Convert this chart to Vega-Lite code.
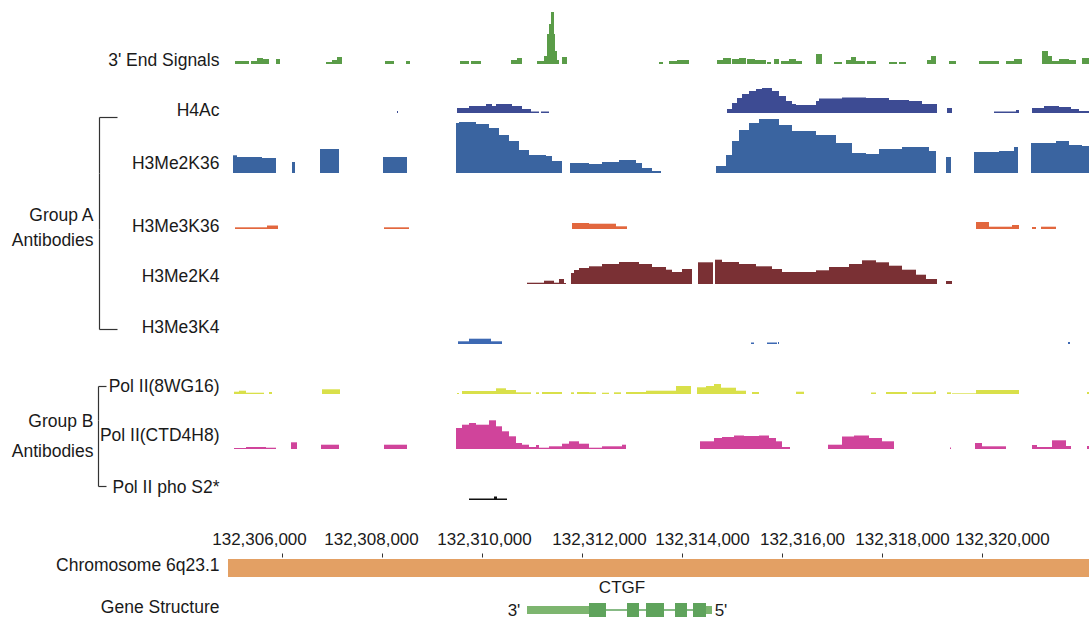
{
  "$schema": "https://vega.github.io/schema/vega-lite/v6.json",
  "padding": 0,
  "background": "#ffffff",
  "spacing": 0,
  "bounds": "flush",
  "config": {
    "view": {"stroke": null},
    "font": "Liberation Sans",
    "axis": {"grid": false, "titleFont": "Liberation Sans", "labelFont": "Liberation Sans", "titleFontWeight": "normal", "titleFontSize": 17.5, "labelFontSize": 17, "titleColor": "#1a1a1a", "labelColor": "#1a1a1a", "domainColor": "#333333", "tickColor": "#333333", "titleAngle": 0},
    "text": {"font": "Liberation Sans", "fontSize": 17, "color": "#1a1a1a"}
  },
  "datasets": {
    "signal": [
      {"track":"end3","start":132305060,"end":132305340,"signal":3},
      {"track":"end3","start":132305380,"end":132305500,"signal":3},
      {"track":"end3","start":132305500,"end":132305620,"signal":6},
      {"track":"end3","start":132305620,"end":132305740,"signal":5},
      {"track":"end3","start":132305880,"end":132305960,"signal":5},
      {"track":"end3","start":132306880,"end":132307000,"signal":2},
      {"track":"end3","start":132307000,"end":132307100,"signal":4},
      {"track":"end3","start":132307100,"end":132307200,"signal":7},
      {"track":"end3","start":132308060,"end":132308240,"signal":3},
      {"track":"end3","start":132308480,"end":132308560,"signal":3},
      {"track":"end3","start":132309560,"end":132309740,"signal":3},
      {"track":"end3","start":132309780,"end":132309980,"signal":3},
      {"track":"end3","start":132310580,"end":132310700,"signal":4},
      {"track":"end3","start":132310700,"end":132310800,"signal":6},
      {"track":"end3","start":132311100,"end":132311240,"signal":3},
      {"track":"end3","start":132311240,"end":132311300,"signal":8},
      {"track":"end3","start":132311300,"end":132311340,"signal":30},
      {"track":"end3","start":132311340,"end":132311380,"signal":40},
      {"track":"end3","start":132311380,"end":132311440,"signal":52},
      {"track":"end3","start":132311440,"end":132311460,"signal":30},
      {"track":"end3","start":132311460,"end":132311500,"signal":13},
      {"track":"end3","start":132311500,"end":132311540,"signal":4},
      {"track":"end3","start":132311600,"end":132311700,"signal":7},
      {"track":"end3","start":132313540,"end":132313620,"signal":2},
      {"track":"end3","start":132313740,"end":132313900,"signal":3},
      {"track":"end3","start":132313900,"end":132314140,"signal":4},
      {"track":"end3","start":132314700,"end":132314820,"signal":4},
      {"track":"end3","start":132314820,"end":132314980,"signal":6},
      {"track":"end3","start":132315000,"end":132315140,"signal":5},
      {"track":"end3","start":132315140,"end":132315280,"signal":6},
      {"track":"end3","start":132315300,"end":132315460,"signal":5},
      {"track":"end3","start":132315460,"end":132315680,"signal":4},
      {"track":"end3","start":132315700,"end":132315780,"signal":2},
      {"track":"end3","start":132315840,"end":132315940,"signal":5},
      {"track":"end3","start":132315980,"end":132316140,"signal":3},
      {"track":"end3","start":132316140,"end":132316280,"signal":5},
      {"track":"end3","start":132316280,"end":132316400,"signal":3},
      {"track":"end3","start":132316680,"end":132316800,"signal":10},
      {"track":"end3","start":132317040,"end":132317200,"signal":2},
      {"track":"end3","start":132317280,"end":132317380,"signal":4},
      {"track":"end3","start":132317380,"end":132317480,"signal":7},
      {"track":"end3","start":132317480,"end":132317660,"signal":3},
      {"track":"end3","start":132317700,"end":132317880,"signal":3},
      {"track":"end3","start":132318140,"end":132318300,"signal":2},
      {"track":"end3","start":132318340,"end":132318480,"signal":2},
      {"track":"end3","start":132318900,"end":132318980,"signal":4},
      {"track":"end3","start":132318980,"end":132319080,"signal":8},
      {"track":"end3","start":132319340,"end":132319480,"signal":3},
      {"track":"end3","start":132319940,"end":132320340,"signal":3},
      {"track":"end3","start":132320480,"end":132320640,"signal":3},
      {"track":"end3","start":132320640,"end":132320800,"signal":5},
      {"track":"end3","start":132321200,"end":132321320,"signal":13},
      {"track":"end3","start":132321320,"end":132321400,"signal":8},
      {"track":"end3","start":132321400,"end":132321540,"signal":3},
      {"track":"end3","start":132321540,"end":132321740,"signal":5},
      {"track":"end3","start":132321740,"end":132321880,"signal":4},
      {"track":"end3","start":132322000,"end":132322140,"signal":6},

      {"track":"h4ac","start":132308300,"end":132308320,"signal":2},
      {"track":"h4ac","start":132309500,"end":132309740,"signal":5},
      {"track":"h4ac","start":132309740,"end":132310080,"signal":7},
      {"track":"h4ac","start":132310080,"end":132310200,"signal":9},
      {"track":"h4ac","start":132310200,"end":132310280,"signal":7},
      {"track":"h4ac","start":132310280,"end":132310600,"signal":9},
      {"track":"h4ac","start":132310600,"end":132310800,"signal":7},
      {"track":"h4ac","start":132310800,"end":132310980,"signal":4},
      {"track":"h4ac","start":132310980,"end":132311140,"signal":1.5},
      {"track":"h4ac","start":132311180,"end":132311340,"signal":1.5},
      {"track":"h4ac","start":132314900,"end":132315000,"signal":4},
      {"track":"h4ac","start":132315000,"end":132315100,"signal":10},
      {"track":"h4ac","start":132315100,"end":132315200,"signal":15},
      {"track":"h4ac","start":132315200,"end":132315340,"signal":19},
      {"track":"h4ac","start":132315340,"end":132315480,"signal":22},
      {"track":"h4ac","start":132315480,"end":132315600,"signal":24},
      {"track":"h4ac","start":132315600,"end":132315800,"signal":25},
      {"track":"h4ac","start":132315800,"end":132315940,"signal":22},
      {"track":"h4ac","start":132315940,"end":132316080,"signal":17},
      {"track":"h4ac","start":132316080,"end":132316200,"signal":12},
      {"track":"h4ac","start":132316200,"end":132316280,"signal":9},
      {"track":"h4ac","start":132316280,"end":132316680,"signal":8},
      {"track":"h4ac","start":132316680,"end":132316740,"signal":12},
      {"track":"h4ac","start":132316740,"end":132317200,"signal":14.5},
      {"track":"h4ac","start":132317200,"end":132317680,"signal":15.5},
      {"track":"h4ac","start":132317680,"end":132318140,"signal":15},
      {"track":"h4ac","start":132318140,"end":132318540,"signal":13},
      {"track":"h4ac","start":132318540,"end":132318800,"signal":12},
      {"track":"h4ac","start":132318800,"end":132319100,"signal":9},
      {"track":"h4ac","start":132319300,"end":132319400,"signal":5},
      {"track":"h4ac","start":132320240,"end":132320680,"signal":1.5},
      {"track":"h4ac","start":132320680,"end":132320740,"signal":3},
      {"track":"h4ac","start":132321000,"end":132321240,"signal":5},
      {"track":"h4ac","start":132321240,"end":132321540,"signal":7},
      {"track":"h4ac","start":132321540,"end":132321780,"signal":6},
      {"track":"h4ac","start":132321780,"end":132321940,"signal":4},
      {"track":"h4ac","start":132321940,"end":132322140,"signal":2},

      {"track":"k36me2","start":132305020,"end":132305100,"signal":17.7},
      {"track":"k36me2","start":132305100,"end":132305600,"signal":16},
      {"track":"k36me2","start":132305600,"end":132305880,"signal":15},
      {"track":"k36me2","start":132306200,"end":132306260,"signal":11},
      {"track":"k36me2","start":132306760,"end":132307140,"signal":24},
      {"track":"k36me2","start":132308020,"end":132308500,"signal":16},
      {"track":"k36me2","start":132309480,"end":132309540,"signal":50},
      {"track":"k36me2","start":132309540,"end":132309880,"signal":51},
      {"track":"k36me2","start":132309880,"end":132310140,"signal":49},
      {"track":"k36me2","start":132310140,"end":132310340,"signal":45},
      {"track":"k36me2","start":132310340,"end":132310540,"signal":38},
      {"track":"k36me2","start":132310540,"end":132310740,"signal":32},
      {"track":"k36me2","start":132310740,"end":132310940,"signal":23},
      {"track":"k36me2","start":132310940,"end":132311280,"signal":18},
      {"track":"k36me2","start":132311280,"end":132311400,"signal":17},
      {"track":"k36me2","start":132311400,"end":132311600,"signal":12},
      {"track":"k36me2","start":132311760,"end":132312140,"signal":10},
      {"track":"k36me2","start":132312140,"end":132312400,"signal":9},
      {"track":"k36me2","start":132312400,"end":132312740,"signal":11},
      {"track":"k36me2","start":132312740,"end":132313080,"signal":13},
      {"track":"k36me2","start":132313080,"end":132313200,"signal":10},
      {"track":"k36me2","start":132313200,"end":132313400,"signal":5},
      {"track":"k36me2","start":132313400,"end":132313580,"signal":2},
      {"track":"k36me2","start":132314680,"end":132314880,"signal":7},
      {"track":"k36me2","start":132314880,"end":132315000,"signal":18},
      {"track":"k36me2","start":132315000,"end":132315140,"signal":32},
      {"track":"k36me2","start":132315140,"end":132315340,"signal":43},
      {"track":"k36me2","start":132315340,"end":132315540,"signal":50},
      {"track":"k36me2","start":132315540,"end":132315940,"signal":54},
      {"track":"k36me2","start":132315940,"end":132316200,"signal":48},
      {"track":"k36me2","start":132316200,"end":132316680,"signal":42},
      {"track":"k36me2","start":132316680,"end":132317080,"signal":38},
      {"track":"k36me2","start":132317080,"end":132317400,"signal":30},
      {"track":"k36me2","start":132317400,"end":132317680,"signal":20},
      {"track":"k36me2","start":132317680,"end":132317940,"signal":19},
      {"track":"k36me2","start":132317940,"end":132318400,"signal":24},
      {"track":"k36me2","start":132318400,"end":132318940,"signal":26},
      {"track":"k36me2","start":132318940,"end":132319080,"signal":22},
      {"track":"k36me2","start":132319280,"end":132319380,"signal":16},
      {"track":"k36me2","start":132319840,"end":132320340,"signal":21},
      {"track":"k36me2","start":132320340,"end":132320640,"signal":22},
      {"track":"k36me2","start":132320640,"end":132320720,"signal":26},
      {"track":"k36me2","start":132320980,"end":132321480,"signal":30},
      {"track":"k36me2","start":132321480,"end":132321740,"signal":32},
      {"track":"k36me2","start":132321740,"end":132322000,"signal":28},
      {"track":"k36me2","start":132322000,"end":132322140,"signal":27},

      {"track":"k36me3","start":132305060,"end":132305700,"signal":1.7},
      {"track":"k36me3","start":132305700,"end":132305920,"signal":3.5},
      {"track":"k36me3","start":132308040,"end":132308540,"signal":1.7},
      {"track":"k36me3","start":132311800,"end":132312140,"signal":6},
      {"track":"k36me3","start":132312140,"end":132312680,"signal":5.3},
      {"track":"k36me3","start":132312680,"end":132312900,"signal":2.7},
      {"track":"k36me3","start":132319880,"end":132320140,"signal":7},
      {"track":"k36me3","start":132320140,"end":132320600,"signal":2.3},
      {"track":"k36me3","start":132320600,"end":132320740,"signal":4},
      {"track":"k36me3","start":132321000,"end":132321080,"signal":2},
      {"track":"k36me3","start":132321180,"end":132321480,"signal":2.3},

      {"track":"k4me2","start":132310900,"end":132311240,"signal":1.3},
      {"track":"k4me2","start":132311240,"end":132311440,"signal":3.3},
      {"track":"k4me2","start":132311440,"end":132311540,"signal":1.3},
      {"track":"k4me2","start":132311540,"end":132311640,"signal":5},
      {"track":"k4me2","start":132311640,"end":132311680,"signal":1},
      {"track":"k4me2","start":132311780,"end":132311840,"signal":11},
      {"track":"k4me2","start":132311840,"end":132311940,"signal":14},
      {"track":"k4me2","start":132311940,"end":132312140,"signal":16},
      {"track":"k4me2","start":132312140,"end":132312400,"signal":17.7},
      {"track":"k4me2","start":132312400,"end":132312740,"signal":20},
      {"track":"k4me2","start":132312740,"end":132313140,"signal":22},
      {"track":"k4me2","start":132313140,"end":132313400,"signal":20},
      {"track":"k4me2","start":132313400,"end":132313680,"signal":17},
      {"track":"k4me2","start":132313680,"end":132313800,"signal":14.3},
      {"track":"k4me2","start":132313800,"end":132314000,"signal":12},
      {"track":"k4me2","start":132314000,"end":132314200,"signal":15},
      {"track":"k4me2","start":132314320,"end":132314620,"signal":21.7},
      {"track":"k4me2","start":132314660,"end":132314800,"signal":24.3},
      {"track":"k4me2","start":132314800,"end":132315140,"signal":22},
      {"track":"k4me2","start":132315140,"end":132315480,"signal":20},
      {"track":"k4me2","start":132315480,"end":132315800,"signal":17.7},
      {"track":"k4me2","start":132315800,"end":132316000,"signal":15},
      {"track":"k4me2","start":132316000,"end":132316680,"signal":12},
      {"track":"k4me2","start":132316680,"end":132316940,"signal":13.7},
      {"track":"k4me2","start":132316940,"end":132317340,"signal":17},
      {"track":"k4me2","start":132317340,"end":132317600,"signal":20},
      {"track":"k4me2","start":132317600,"end":132317880,"signal":23.7},
      {"track":"k4me2","start":132317880,"end":132318140,"signal":21.7},
      {"track":"k4me2","start":132318140,"end":132318400,"signal":18.3},
      {"track":"k4me2","start":132318400,"end":132318680,"signal":14.3},
      {"track":"k4me2","start":132318680,"end":132318880,"signal":9.3},
      {"track":"k4me2","start":132318880,"end":132319100,"signal":5},
      {"track":"k4me2","start":132319280,"end":132319400,"signal":3},

      {"track":"k4me3","start":132309520,"end":132309740,"signal":2.7},
      {"track":"k4me3","start":132309740,"end":132310180,"signal":5.3},
      {"track":"k4me3","start":132310180,"end":132310400,"signal":2.7},
      {"track":"k4me3","start":132315380,"end":132315440,"signal":1.5},
      {"track":"k4me3","start":132315700,"end":132315900,"signal":1.5},
      {"track":"k4me3","start":132315920,"end":132315940,"signal":2},
      {"track":"k4me3","start":132321720,"end":132321760,"signal":2},

      {"track":"pol8wg16","start":132305040,"end":132305140,"signal":2.3},
      {"track":"pol8wg16","start":132305140,"end":132305280,"signal":3.3},
      {"track":"pol8wg16","start":132305280,"end":132305640,"signal":1.3},
      {"track":"pol8wg16","start":132305740,"end":132305800,"signal":2},
      {"track":"pol8wg16","start":132306800,"end":132307160,"signal":4.7},
      {"track":"pol8wg16","start":132309500,"end":132309540,"signal":1},
      {"track":"pol8wg16","start":132309600,"end":132310280,"signal":3},
      {"track":"pol8wg16","start":132310280,"end":132310480,"signal":5.7},
      {"track":"pol8wg16","start":132310480,"end":132310680,"signal":4},
      {"track":"pol8wg16","start":132310680,"end":132310980,"signal":1.7},
      {"track":"pol8wg16","start":132311080,"end":132311140,"signal":1.7},
      {"track":"pol8wg16","start":132311200,"end":132311600,"signal":2},
      {"track":"pol8wg16","start":132311780,"end":132311840,"signal":1.7},
      {"track":"pol8wg16","start":132311900,"end":132312140,"signal":2},
      {"track":"pol8wg16","start":132312140,"end":132312280,"signal":1.7},
      {"track":"pol8wg16","start":132312400,"end":132312540,"signal":1.3},
      {"track":"pol8wg16","start":132312640,"end":132312780,"signal":1.7},
      {"track":"pol8wg16","start":132312880,"end":132313280,"signal":2},
      {"track":"pol8wg16","start":132313280,"end":132313880,"signal":3.3},
      {"track":"pol8wg16","start":132313880,"end":132314180,"signal":8},
      {"track":"pol8wg16","start":132314300,"end":132314480,"signal":6.7},
      {"track":"pol8wg16","start":132314480,"end":132314640,"signal":8},
      {"track":"pol8wg16","start":132314640,"end":132314780,"signal":10},
      {"track":"pol8wg16","start":132314780,"end":132315080,"signal":6.3},
      {"track":"pol8wg16","start":132315080,"end":132315280,"signal":3.3},
      {"track":"pol8wg16","start":132315400,"end":132315540,"signal":2},
      {"track":"pol8wg16","start":132316280,"end":132316440,"signal":2.3},
      {"track":"pol8wg16","start":132317780,"end":132317880,"signal":1.5},
      {"track":"pol8wg16","start":132318080,"end":132318500,"signal":2},
      {"track":"pol8wg16","start":132318600,"end":132319040,"signal":1.7},
      {"track":"pol8wg16","start":132319040,"end":132319080,"signal":2.7},
      {"track":"pol8wg16","start":132319300,"end":132319380,"signal":1.7},
      {"track":"pol8wg16","start":132319400,"end":132319880,"signal":0.7},
      {"track":"pol8wg16","start":132319880,"end":132320740,"signal":4},
      {"track":"pol8wg16","start":132322100,"end":132322140,"signal":2},

      {"track":"polctd","start":132305040,"end":132305280,"signal":1},
      {"track":"polctd","start":132305280,"end":132305680,"signal":2},
      {"track":"polctd","start":132305680,"end":132305880,"signal":1.3},
      {"track":"polctd","start":132306180,"end":132306300,"signal":6.7},
      {"track":"polctd","start":132306780,"end":132307140,"signal":4.3},
      {"track":"polctd","start":132308040,"end":132308500,"signal":4.3},
      {"track":"polctd","start":132309480,"end":132309600,"signal":21},
      {"track":"polctd","start":132309600,"end":132309740,"signal":24.3},
      {"track":"polctd","start":132309740,"end":132309880,"signal":26},
      {"track":"polctd","start":132309880,"end":132310140,"signal":24.3},
      {"track":"polctd","start":132310140,"end":132310280,"signal":28.7},
      {"track":"polctd","start":132310280,"end":132310400,"signal":22.7},
      {"track":"polctd","start":132310400,"end":132310540,"signal":17.7},
      {"track":"polctd","start":132310540,"end":132310680,"signal":12.7},
      {"track":"polctd","start":132310680,"end":132310800,"signal":6},
      {"track":"polctd","start":132310800,"end":132310940,"signal":4.3},
      {"track":"polctd","start":132310940,"end":132311080,"signal":2},
      {"track":"polctd","start":132311080,"end":132311140,"signal":4},
      {"track":"polctd","start":132311140,"end":132311340,"signal":1.3},
      {"track":"polctd","start":132311340,"end":132311600,"signal":2.7},
      {"track":"polctd","start":132311600,"end":132311740,"signal":5.3},
      {"track":"polctd","start":132311740,"end":132311940,"signal":7.7},
      {"track":"polctd","start":132311940,"end":132312140,"signal":5.3},
      {"track":"polctd","start":132312140,"end":132312400,"signal":1.3},
      {"track":"polctd","start":132312400,"end":132312800,"signal":2.7},
      {"track":"polctd","start":132312800,"end":132312880,"signal":4.3},
      {"track":"polctd","start":132314360,"end":132314640,"signal":7.7},
      {"track":"polctd","start":132314640,"end":132314800,"signal":11},
      {"track":"polctd","start":132314800,"end":132315040,"signal":12},
      {"track":"polctd","start":132315040,"end":132315240,"signal":13.5},
      {"track":"polctd","start":132315240,"end":132315540,"signal":13},
      {"track":"polctd","start":132315540,"end":132315740,"signal":13.5},
      {"track":"polctd","start":132315740,"end":132315880,"signal":11},
      {"track":"polctd","start":132315880,"end":132316000,"signal":7.7},
      {"track":"polctd","start":132316000,"end":132316160,"signal":2},
      {"track":"polctd","start":132316920,"end":132317200,"signal":4.3},
      {"track":"polctd","start":132317200,"end":132317440,"signal":12.5},
      {"track":"polctd","start":132317440,"end":132317740,"signal":13.5},
      {"track":"polctd","start":132317740,"end":132318000,"signal":11},
      {"track":"polctd","start":132318000,"end":132318240,"signal":7.7},
      {"track":"polctd","start":132319360,"end":132319380,"signal":1.5},
      {"track":"polctd","start":132319860,"end":132320000,"signal":6},
      {"track":"polctd","start":132320000,"end":132320480,"signal":2.7},
      {"track":"polctd","start":132321000,"end":132321100,"signal":4},
      {"track":"polctd","start":132321100,"end":132321400,"signal":2},
      {"track":"polctd","start":132321400,"end":132321680,"signal":8.7},
      {"track":"polctd","start":132321680,"end":132321780,"signal":3},
      {"track":"polctd","start":132322100,"end":132322140,"signal":3},

      {"track":"pols2","start":132309740,"end":132310240,"signal":1.5},
      {"track":"pols2","start":132310240,"end":132310300,"signal":3.5},
      {"track":"pols2","start":132310300,"end":132310500,"signal":1.5}
    ],
    "genome": [
      {"lane":"Chromosome 6q23.1","kind":"chromosome","start":132304920,"end":132322140},
      {"lane":"Gene Structure","kind":"intron","start":132310900,"end":132314600},
      {"lane":"Gene Structure","kind":"utr","start":132310900,"end":132312140},
      {"lane":"Gene Structure","kind":"exon","start":132312140,"end":132312480},
      {"lane":"Gene Structure","kind":"exon","start":132312900,"end":132313140},
      {"lane":"Gene Structure","kind":"exon","start":132313280,"end":132313640},
      {"lane":"Gene Structure","kind":"exon","start":132313860,"end":132314100},
      {"lane":"Gene Structure","kind":"exon","start":132314220,"end":132314480},
      {"lane":"Gene Structure","kind":"utr","start":132314480,"end":132314600}
    ],
    "labels": [
      {"role":"gene","text":"CTGF","lane":"Gene Structure","pos":132312800},
      {"role":"end","text":"3'","lane":"Gene Structure","pos":132310640},
      {"role":"end","text":"5'","lane":"Gene Structure","pos":132314780}
    ]
  },
  "vconcat": [
    {
      "width": 858, "height": 64,
      "data": {"name": "signal"},
      "transform": [{"filter": {"field": "track", "equal": "end3"}}],
      "mark": {"type": "rect", "color": "#5a9c48"},
      "encoding": {
        "x": {"field": "start", "type": "quantitative", "scale": {"domain": [132305000, 132322160], "nice": false, "zero": false}, "axis": null},
        "x2": {"field": "end"},
        "y": {"field": "signal", "type": "quantitative", "scale": {"domain": [0, 64], "nice": false, "zero": false},
          "axis": {"title": "3' End Signals", "titleAlign": "right", "titleBaseline": "middle", "titleX": 219, "titleY": 60, "offset": 232, "domain": true, "domainColor": "#ffffff", "ticks": false, "labels": false}},
        "y2": {"datum": 0}
      }
    },
    {
      "width": 858, "height": 53,
      "data": {"name": "signal"},
      "transform": [{"filter": {"field": "track", "equal": "h4ac"}}],
      "mark": {"type": "rect", "color": "#3d4b93"},
      "encoding": {
        "x": {"field": "start", "type": "quantitative", "scale": {"domain": [132305000, 132322160], "nice": false, "zero": false}, "axis": null},
        "x2": {"field": "end"},
        "y": {"field": "signal", "type": "quantitative", "scale": {"domain": [-4, 49], "nice": false, "zero": false},
          "axis": {"title": "H4Ac", "titleAlign": "right", "titleBaseline": "middle", "titleX": -13, "titleY": 46, "domain": false, "ticks": false, "labels": false}},
        "y2": {"datum": 0}
      }
    },
    {
      "width": 858, "height": 56,
      "data": {"name": "signal"},
      "transform": [{"filter": {"field": "track", "equal": "k36me2"}}],
      "mark": {"type": "rect", "color": "#3a64a0"},
      "encoding": {
        "x": {"field": "start", "type": "quantitative", "scale": {"domain": [132305000, 132322160], "nice": false, "zero": false}, "axis": null},
        "x2": {"field": "end"},
        "y": {"field": "signal", "type": "quantitative", "scale": {"domain": [0, 56], "nice": false, "zero": false},
          "axis": {"title": "H3Me2K36", "titleAlign": "right", "titleBaseline": "middle", "titleX": 120, "titleY": 46, "offset": 133, "domain": true, "domainWidth": 1.2, "ticks": true, "tickSize": -18, "tickWidth": 1.2, "values": [56], "labels": false}},
        "y2": {"datum": 0}
      }
    },
    {
      "width": 858, "height": 56,
      "data": {"name": "signal"},
      "transform": [{"filter": {"field": "track", "equal": "k36me3"}}],
      "mark": {"type": "rect", "color": "#e2673e"},
      "encoding": {
        "x": {"field": "start", "type": "quantitative", "scale": {"domain": [132305000, 132322160], "nice": false, "zero": false},
          "axis": {"title": ["Group A", "Antibodies"], "orient": "bottom", "domain": false, "ticks": false, "labels": false, "titleAlign": "right", "titleBaseline": "middle", "titleX": -139, "titleY": -14, "titleLineHeight": 25}},
        "x2": {"field": "end"},
        "y": {"field": "signal", "type": "quantitative", "scale": {"domain": [0, 56], "nice": false, "zero": false},
          "axis": {"title": "H3Me3K36", "titleAlign": "right", "titleBaseline": "middle", "titleX": 120, "titleY": 53, "offset": 133, "domain": true, "domainWidth": 1.2, "ticks": false, "labels": false}},
        "y2": {"datum": 0}
      }
    },
    {
      "width": 858, "height": 100,
      "data": {"name": "signal"},
      "transform": [{"filter": {"field": "track", "equal": "k4me2"}}],
      "mark": {"type": "rect", "color": "#7a3034"},
      "encoding": {
        "x": {"field": "start", "type": "quantitative", "scale": {"domain": [132305000, 132322160], "nice": false, "zero": false}, "axis": null},
        "x2": {"field": "end"},
        "y": {"field": "signal", "type": "quantitative", "scale": {"domain": [-45, 55], "nice": false, "zero": false},
          "axis": {"title": "H3Me2K4", "titleAlign": "right", "titleBaseline": "middle", "titleX": 120, "titleY": 47, "offset": 133, "domain": true, "domainWidth": 1.2, "ticks": true, "tickSize": -18, "tickWidth": 1.2, "values": [-45], "labels": false}},
        "y2": {"datum": 0}
      }
    },
    {
      "width": 858, "height": 57,
      "data": {"name": "signal"},
      "transform": [{"filter": {"field": "track", "equal": "k4me3"}}],
      "mark": {"type": "rect", "color": "#3d69b3"},
      "encoding": {
        "x": {"field": "start", "type": "quantitative", "scale": {"domain": [132305000, 132322160], "nice": false, "zero": false}, "axis": null},
        "x2": {"field": "end"},
        "y": {"field": "signal", "type": "quantitative", "scale": {"domain": [-42, 15], "nice": false, "zero": false},
          "axis": {"title": "H3Me3K4", "titleAlign": "right", "titleBaseline": "middle", "titleX": -13, "titleY": -2, "domain": false, "ticks": false, "labels": false}},
        "y2": {"datum": 0}
      }
    },
    {
      "width": 858, "height": 34,
      "data": {"name": "signal"},
      "transform": [{"filter": {"field": "track", "equal": "pol8wg16"}}],
      "mark": {"type": "rect", "color": "#d9e04a"},
      "encoding": {
        "x": {"field": "start", "type": "quantitative", "scale": {"domain": [132305000, 132322160], "nice": false, "zero": false}, "axis": null},
        "x2": {"field": "end"},
        "y": {"field": "signal", "type": "quantitative", "scale": {"domain": [-26, 8], "nice": false, "zero": false},
          "axis": {"title": "Pol II(8WG16)", "titleAlign": "right", "titleBaseline": "middle", "titleX": 121, "titleY": 0, "offset": 134, "domain": true, "domainWidth": 1.2, "ticks": true, "tickSize": -8, "tickWidth": 1.2, "values": [8], "labels": false}},
        "y2": {"datum": 0}
      }
    },
    {
      "width": 858, "height": 66,
      "data": {"name": "signal"},
      "transform": [{"filter": {"field": "track", "equal": "polctd"}}],
      "mark": {"type": "rect", "color": "#d0449b"},
      "encoding": {
        "x": {"field": "start", "type": "quantitative", "scale": {"domain": [132305000, 132322160], "nice": false, "zero": false},
          "axis": {"title": ["Group B", "Antibodies"], "orient": "bottom", "domain": false, "ticks": false, "labels": false, "titleAlign": "right", "titleBaseline": "middle", "titleX": -139, "titleY": -65, "titleLineHeight": 30}},
        "x2": {"field": "end"},
        "y": {"field": "signal", "type": "quantitative", "scale": {"domain": [-37, 29], "nice": false, "zero": false},
          "axis": {"title": "Pol II(CTD4H8)", "titleAlign": "right", "titleBaseline": "middle", "titleX": 121, "titleY": 15, "offset": 134, "domain": true, "domainWidth": 1.2, "ticks": true, "tickSize": -8, "tickWidth": 1.2, "values": [-37], "labels": false}},
        "y2": {"datum": 0}
      }
    },
    {
      "width": 858, "height": 82,
      "data": {"name": "signal"},
      "transform": [{"filter": {"field": "track", "equal": "pols2"}}],
      "mark": {"type": "rect", "color": "#111111"},
      "encoding": {
        "x": {"field": "start", "type": "quantitative", "scale": {"domain": [132305000, 132322160], "nice": false, "zero": false}, "axis": null},
        "x2": {"field": "end"},
        "y": {"field": "signal", "type": "quantitative", "scale": {"domain": [-68, 14], "nice": false, "zero": false},
          "axis": {"title": "Pol II pho S2*", "titleAlign": "right", "titleBaseline": "middle", "titleX": -13, "titleY": 1, "domain": false, "ticks": false, "labels": false}},
        "y2": {"datum": 0}
      }
    },
    {
      "width": 858, "height": 42,
      "layer": [
        {
          "data": {"name": "genome"},
          "transform": [{"filter": {"field": "kind", "equal": "chromosome"}}],
          "mark": {"type": "rule", "strokeCap": "butt", "strokeWidth": 18, "color": "#e3a064"},
          "encoding": {
            "x": {"field": "start", "type": "quantitative", "scale": {"domain": [132305000, 132322160], "nice": false, "zero": false},
              "axis": {"orient": "top", "title": null, "offset": 11, "domain": false, "ticks": true, "tickSize": 4, "tickWidth": 1, "labelPadding": 5, "values": [132306000, 132308000, 132310000, 132312000, 132314000, 132316000, 132318000, 132320000], "format": ",d", "labelExpr": "datum.value == 132316000 ? '132,316,00' : datum.label", "labelOverlap": false, "labelFlush": false, "labelBound": false,
                "labelOffset": {"condition": [{"test": "datum.value == 132306000", "value": -23}, {"test": "datum.value == 132308000", "value": -11}, {"test": "datum.value == 132310000", "value": 2}, {"test": "datum.value == 132312000", "value": 17}], "value": 20}}},
            "x2": {"field": "end"},
            "y": {"field": "lane", "type": "nominal", "scale": {"type": "point", "padding": 0, "domain": ["Chromosome 6q23.1", "Gene Structure"]},
              "axis": {"title": null, "domain": false, "ticks": false, "tickSize": 0, "labelPadding": 13, "labelFontSize": 17.5, "labelOffset": -3}}
          }
        },
        {
          "data": {"name": "genome"},
          "transform": [{"filter": {"field": "kind", "equal": "intron"}}],
          "mark": {"type": "rule", "strokeCap": "butt", "strokeWidth": 1.5, "color": "#5fa35c"},
          "encoding": {"x": {"field": "start", "type": "quantitative"}, "x2": {"field": "end"}, "y": {"field": "lane", "type": "nominal"}}
        },
        {
          "data": {"name": "genome"},
          "transform": [{"filter": {"field": "kind", "equal": "utr"}}],
          "mark": {"type": "rule", "strokeCap": "butt", "strokeWidth": 8, "color": "#7db56f"},
          "encoding": {"x": {"field": "start", "type": "quantitative"}, "x2": {"field": "end"}, "y": {"field": "lane", "type": "nominal"}}
        },
        {
          "data": {"name": "genome"},
          "transform": [{"filter": {"field": "kind", "equal": "exon"}}],
          "mark": {"type": "rule", "strokeCap": "butt", "strokeWidth": 14, "color": "#5fa35c"},
          "encoding": {"x": {"field": "start", "type": "quantitative"}, "x2": {"field": "end"}, "y": {"field": "lane", "type": "nominal"}}
        },
        {
          "data": {"name": "labels"},
          "transform": [{"filter": {"field": "role", "equal": "gene"}}],
          "mark": {"type": "text", "dy": -22, "fontSize": 17, "baseline": "middle", "align": "center"},
          "encoding": {"x": {"field": "pos", "type": "quantitative"}, "y": {"field": "lane", "type": "nominal"}, "text": {"field": "text"}}
        },
        {
          "data": {"name": "labels"},
          "transform": [{"filter": {"field": "role", "equal": "end"}}],
          "mark": {"type": "text", "dy": 1, "fontSize": 17, "baseline": "middle", "align": "center"},
          "encoding": {"x": {"field": "pos", "type": "quantitative"}, "y": {"field": "lane", "type": "nominal"}, "text": {"field": "text"}}
        }
      ]
    }
  ]
}
